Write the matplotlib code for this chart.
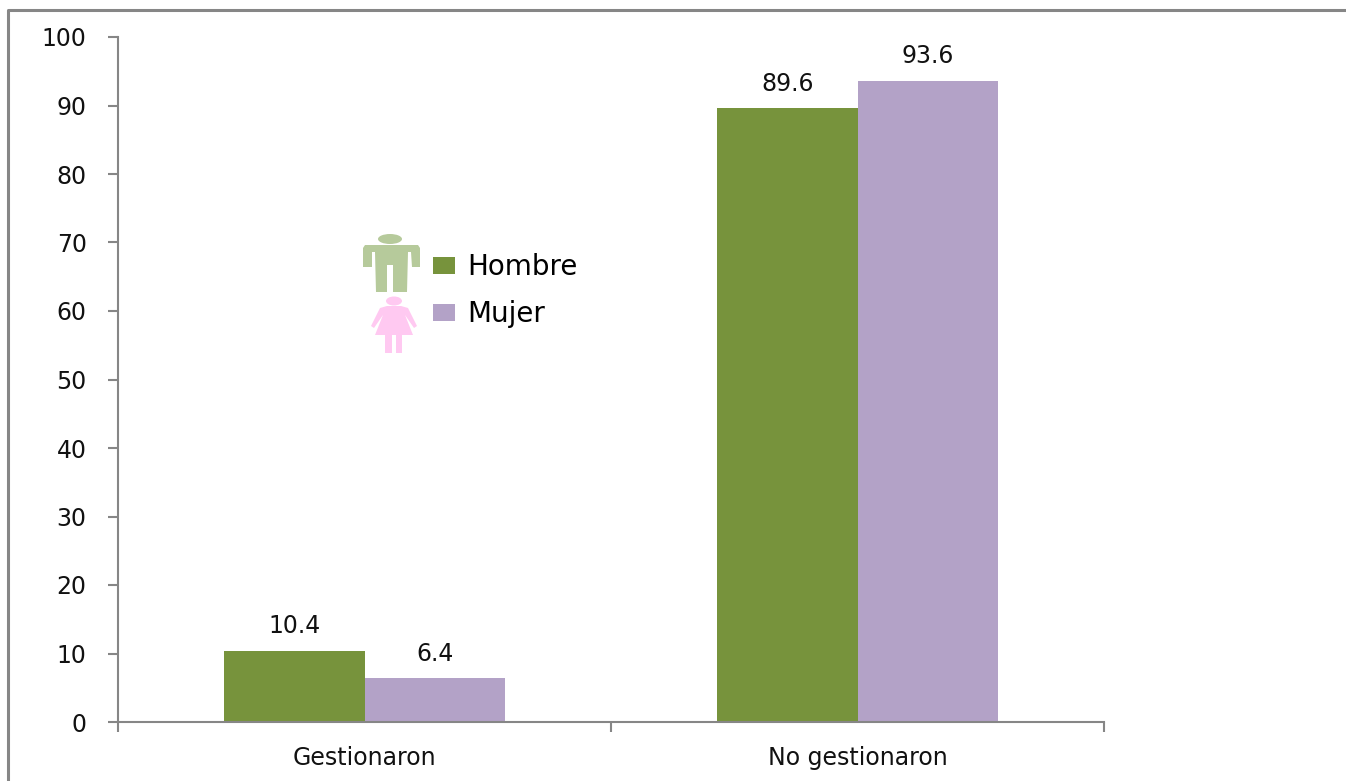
import matplotlib
matplotlib.use("Agg")
import matplotlib.pyplot as plt
import numpy as np
from matplotlib.lines import Line2D
from matplotlib.patches import Ellipse, Polygon

categories = ["Gestionaron", "No gestionaron"]
hombre = [10.4, 89.6]
mujer = [6.4, 93.6]
y_ticks = [0, 10, 20, 30, 40, 50, 60, 70, 80, 90, 100]

W, H = 1346, 781
GREEN = "#77933C"
PURPLE = "#B3A2C7"
GRAY = "#868686"
MAN_COLOR = "#B6CA9B"
WOMAN_COLOR = "#FFC9F1"
TEXT_SIZE = 17


def px(points):
    # pixel coords from the top left -> figure fraction
    return [(x / W, 1 - y / H) for x, y in points]


fig = plt.figure(figsize=(W / 100, H / 100), dpi=100)
ax = fig.add_axes([118 / W, 1 - 722 / H, (1104 - 118) / W, (722 - 37) / H])

x = np.arange(len(categories))
bar_w = 0.285
bars_h = ax.bar(x - bar_w / 2, hombre, bar_w, color=GREEN, label="Hombre")
bars_m = ax.bar(x + bar_w / 2, mujer, bar_w, color=PURPLE, label="Mujer")
ax.bar_label(bars_h, fmt="%.1f", padding=9, fontsize=TEXT_SIZE, color="#111111")
ax.bar_label(bars_m, fmt="%.1f", padding=9, fontsize=TEXT_SIZE, color="#111111")

ax.set_xlim(-0.5, 1.5)
ax.set_ylim(0, 100)
ax.set_yticks(y_ticks)
ax.set_xticks([-0.5, 0.5, 1.5])
ax.set_xticklabels([])
ax.set_xticks(x, minor=True)
ax.set_xticklabels(categories, minor=True)
ax.tick_params(axis="x", which="minor", length=0, labelsize=TEXT_SIZE, pad=17, labelcolor="#111111")
ax.tick_params(axis="x", which="major", length=7.5, width=1.5, color=GRAY)
ax.tick_params(axis="y", length=7.5, width=1.5, color=GRAY, labelsize=TEXT_SIZE, pad=15, labelcolor="#111111")
for side in ["top", "right"]:
    ax.spines[side].set_visible(False)
for side in ["left", "bottom"]:
    ax.spines[side].set_color(GRAY)
    ax.spines[side].set_linewidth(1.5)

ax.legend(
    loc="upper left",
    bbox_to_anchor=((433 - 118) / (1104 - 118), (722 - 253) / (722 - 37)),
    frameon=False,
    fontsize=20,
    handlelength=0.8,
    handleheight=0.55,
    handletextpad=0.43,
    labelspacing=0.7,
    borderpad=0,
    borderaxespad=0,
)

# outer frame of the picture, only top and left are visible
fig.add_artist(Line2D([8 / W, 8 / W, 1], [0, 1 - 10 / H, 1 - 10 / H], color=GRAY, lw=2.2))

# man icon
man = [(365, 245), (418, 245), (420, 248), (420, 267), (412, 267), (411, 252), (408, 252), (407, 292),
       (393, 292), (393, 265), (387, 265), (387, 292), (376, 292), (375, 252), (372, 252),
       (372, 267), (363, 267), (363, 248)]
fig.add_artist(Polygon(px(man), closed=True, color=MAN_COLOR, lw=0, transform=fig.transFigure))
fig.add_artist(Ellipse((390 / W, 1 - 239 / H), 24 / W, 10 / H, color=MAN_COLOR, lw=0, transform=fig.transFigure))

# woman icon
woman = [(387, 306), (401, 306), (408, 308), (417, 326), (414, 328), (405, 315), (413, 335),
       (402, 335), (402, 353), (396, 353), (396, 335), (392, 335), (392, 353), (385, 353),
       (385, 335), (375, 335), (383, 315), (374, 328), (371, 326), (380, 308)]
fig.add_artist(Polygon(px(woman), closed=True, color=WOMAN_COLOR, lw=0, transform=fig.transFigure))
fig.add_artist(Ellipse((394 / W, 1 - 301 / H), 16 / W, 9 / H, color=WOMAN_COLOR, lw=0, transform=fig.transFigure))

fig.savefig("out.png", dpi=100)
